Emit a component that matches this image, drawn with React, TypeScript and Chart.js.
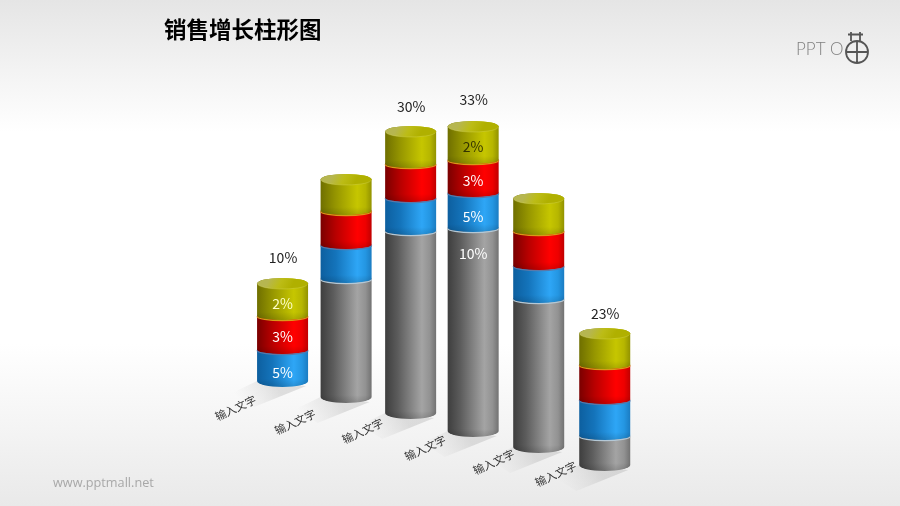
import React, { useEffect, useRef } from "react";
import { Chart, registerables } from "chart.js";

Chart.register(...registerables);

const categories = ["输入文字", "输入文字", "输入文字", "输入文字", "输入文字", "输入文字"];
// In the chart's vertical units
const floorLevels = [119, 103, 87, 69, 53, 35];
const grayValues = [0, 120, 184, 205, 150, 31];
const blueValues = [33, 34, 33, 35, 33, 36];
const redValues = [34, 34, 34, 33, 35, 35];
const oliveValues = [31, 30, 31, 32, 31, 30];
const grayLabels = ["", "", "", "10%", "", ""];
const blueLabels = ["5%", "", "", "5%", "", ""];
const redLabels = ["3%", "", "", "3%", "", ""];
const oliveLabels = ["2%", "", "", "2%", "", ""];
const totalLabels = ["10%", "", "30%", "33%", "", "23%"];

const TITLE = "销售增长柱形图";
const SITE = "www.pptmall.net";
const CJK = '"Noto Sans CJK SC", "Noto Sans", sans-serif';

const RY_CAP = 5.5;
const RY_SEAM = 4;
const RY_FOOT = 6;
const columnNudge = [0.4, -0.4, -0.2, -2, -0.8, 0.9];
const tickOffsets = [[-47, 21], [-51, 19], [-48, 12], [-48, 11], [-45, 9], [-49, 3]];
const totalLift = [31, 0, 30, 32, 0, 25];

type Skin = { stops: [number, string][]; seam: string | null; labels: string[]; text: string[]; };
const skins: Skin[] = [
  {
    stops: [[0, "#3e3e3e"], [0.25, "#5c5c5c"], [0.72, "#a4a4a4"], [0.88, "#929292"], [1, "#727272"]],
    seam: null, labels: grayLabels, text: ["#fff", "#fff", "#fff", "#fff", "#fff", "#fff"],
  },
  {
    stops: [[0, "#0d5f9f"], [0.3, "#1474bb"], [0.72, "#2ea6f6"], [0.88, "#2496e2"], [1, "#1b7cc2"]],
    seam: "#b4c8d6", labels: blueLabels, text: ["#fff", "#fff", "#fff", "#fff", "#fff", "#fff"],
  },
  {
    stops: [[0, "#7a0000"], [0.3, "#b80000"], [0.72, "#ff0000"], [0.88, "#ee0000"], [1, "#c00000"]],
    seam: "#5a78a8", labels: redLabels, text: ["#fff", "#fff", "#fff", "#fff", "#fff", "#fff"],
  },
  {
    stops: [[0, "#6f6f00"], [0.3, "#969600"], [0.72, "#c6c600"], [0.88, "#b6b600"], [1, "#929200"]],
    seam: "#d89a18", labels: oliveLabels, text: ["#ffffc8", "#fff", "#fff", "#333300", "#fff", "#fff"],
  },
];

const cylinderPlugin = {
  id: "cylinders",
  beforeDraw(chart: any) {
    const { ctx, width, height } = chart;
    ctx.save();
    const bg = ctx.createLinearGradient(0, 0, 0, height);
    bg.addColorStop(0, "#e5e5e5");
    bg.addColorStop(0.1, "#efefef");
    bg.addColorStop(0.26, "#ffffff");
    bg.addColorStop(0.68, "#ffffff");
    bg.addColorStop(0.86, "#f3f3f3");
    bg.addColorStop(1, "#e9e9e9");
    ctx.fillStyle = bg;
    ctx.fillRect(0, 0, width, height);

    ctx.fillStyle = "#000";
    ctx.font = `bold 22.5px ${CJK}`;
    ctx.textAlign = "left";
    ctx.textBaseline = "middle";
    ctx.fillText(TITLE, 164, 29);

    ctx.fillStyle = "#a8a8a8";
    ctx.font = '12.7px "Open Sans", sans-serif';
    ctx.fillText(SITE, 53, 483);

    // logo
    ctx.fillStyle = "#808080";
    ctx.font = '300 17px "Lato", sans-serif';
    ctx.fillText("PPT O", 796, 50);
    ctx.strokeStyle = "#555";
    ctx.lineWidth = 1.8;
    ctx.beginPath();
    ctx.arc(857, 52, 11, 0, Math.PI * 2);
    ctx.moveTo(846, 52); ctx.lineTo(868, 52);
    ctx.moveTo(857, 41); ctx.lineTo(857, 63);
    ctx.moveTo(848, 34.5); ctx.lineTo(863, 34.5);
    ctx.moveTo(851, 32); ctx.lineTo(851, 41);
    ctx.moveTo(860, 32); ctx.lineTo(860, 41);
    ctx.stroke();
    ctx.restore();
  },
  afterDatasetsDraw(chart: any) {
    const { ctx } = chart;
    const metas = skins.map((_, k) => chart.getDatasetMeta(k + 1));
    ctx.save();
    categories.forEach((cat, i) => {
      const first = metas[0].data[i];
      const x = first.x + columnNudge[i];
      const half = first.width / 2;
      const bottomFront = first.base;

      // floor shadow
      const sh = ctx.createLinearGradient(x - 10, bottomFront - 6, x - 42, bottomFront + 16);
      sh.addColorStop(0, "rgba(165,165,165,0.32)");
      sh.addColorStop(1, "rgba(190,190,190,0)");
      ctx.fillStyle = sh;
      ctx.beginPath();
      ctx.moveTo(x - half, bottomFront - 6);
      ctx.lineTo(x - half - 25, bottomFront + 6);
      ctx.lineTo(x - half - 3, bottomFront + 20);
      ctx.lineTo(x + half - 2, bottomFront - 1);
      ctx.closePath();
      ctx.fill();

      // stacked cylinder parts, bottom to top; bar ends follow the front edge
      let lowest = true;
      skins.forEach((skin, k) => {
        const el = metas[k].data[i];
        if (Math.abs(el.base - el.y) < 0.5) return;
        const footRy = lowest ? RY_FOOT : RY_SEAM;
        const topRy = k === 3 ? RY_CAP : RY_SEAM;
        const footY = el.base - footRy;
        const headY = el.y - topRy;
        const g = ctx.createLinearGradient(x - half, 0, x + half, 0);
        skin.stops.forEach(([p, c]) => g.addColorStop(p, c));
        ctx.fillStyle = g;
        ctx.beginPath();
        ctx.moveTo(x - half, headY);
        ctx.lineTo(x - half, footY);
        ctx.ellipse(x, footY, half, footRy, 0, Math.PI, 0, true);
        ctx.lineTo(x + half, headY);
        ctx.ellipse(x, headY, half, topRy, 0, 0, Math.PI, true);
        ctx.closePath();
        ctx.fill();

        // soft darkening towards the lower edge
        const shade = ctx.createLinearGradient(0, el.base - 8, 0, el.base);
        shade.addColorStop(0, "rgba(0,0,0,0)");
        shade.addColorStop(1, "rgba(0,0,0,0.14)");
        ctx.fillStyle = shade;
        ctx.fill();

        // lit edge at the joint with the part below
        if (skin.seam && !lowest) {
          ctx.strokeStyle = skin.seam;
          ctx.lineWidth = 1.2;
          ctx.beginPath();
          ctx.ellipse(x, footY + 0.6, half, footRy, 0, Math.PI, 0, true);
          ctx.stroke();
        }
        lowest = false;
      });

      // cap
      const top = metas[3].data[i];
      const capY = top.y - RY_CAP;
      const cap = ctx.createLinearGradient(x - half * 0.5, capY - RY_CAP, x + half * 0.3, capY + RY_CAP);
      cap.addColorStop(0, "#b6b650");
      cap.addColorStop(0.5, "#bcbc16");
      cap.addColorStop(1, "#b0b000");
      ctx.fillStyle = cap;
      ctx.beginPath();
      ctx.ellipse(x, capY, half, RY_CAP, 0, 0, Math.PI * 2);
      ctx.fill();
      ctx.strokeStyle = "rgba(225,225,110,0.3)";
      ctx.lineWidth = 1;
      ctx.beginPath();
      ctx.ellipse(x, capY + 0.5, half - 0.5, RY_CAP - 0.5, 0, 0.15, Math.PI - 0.15);
      ctx.stroke();

      // part labels
      ctx.textAlign = "center";
      ctx.textBaseline = "middle";
      ctx.font = `14px ${CJK}`;
      skins.forEach((skin, k) => {
        const text = skin.labels[i];
        if (!text) return;
        const el = metas[k].data[i];
        let y = (el.y + el.base) / 2;
        if (k === 0) y = el.y + 22;
        if (k === 1) y += 2;
        if (k === 3) y -= 1;
        ctx.fillStyle = skin.text[i];
        ctx.fillText(text, x, y);
      });

      // total
      if (totalLabels[i]) {
        ctx.fillStyle = "#222";
        ctx.fillText(totalLabels[i], x + 0.5, top.y - totalLift[i]);
      }

      // category label along the floor
      ctx.save();
      ctx.translate(x + tickOffsets[i][0], bottomFront + tickOffsets[i][1]);
      ctx.rotate((-25 * Math.PI) / 180);
      ctx.fillStyle = "#333";
      ctx.font = `11px ${CJK}`;
      ctx.fillText(cat, 0, 0);
      ctx.restore();
    });
    ctx.restore();
  },
};

export default function App() {
  const ref = useRef<HTMLCanvasElement | null>(null);
  useEffect(() => {
    if (!ref.current) return;
    const invisible = "rgba(0,0,0,0)";
    const chart = new Chart(ref.current, {
      type: "bar",
      data: {
        labels: categories,
        datasets: [
          { label: "floor", data: floorLevels, backgroundColor: invisible },
          { label: "gray", data: grayValues, backgroundColor: invisible },
          { label: "blue", data: blueValues, backgroundColor: invisible },
          { label: "red", data: redValues, backgroundColor: invisible },
          { label: "olive", data: oliveValues, backgroundColor: invisible },
        ],
      },
      options: {
        responsive: false,
        animation: false,
        layout: { padding: { left: 250, right: 264, top: 0, bottom: 0 } },
        datasets: { bar: { barThickness: 51 } },
        plugins: { legend: { display: false }, tooltip: { enabled: false }, title: { display: false } },
        scales: {
          x: { stacked: true, display: false },
          y: { stacked: true, display: false, min: 0, max: 506 },
        },
      },
      plugins: [cylinderPlugin],
    } as any);
    return () => chart.destroy();
  }, []);
  return (
    <div style={{ position: "absolute", left: 0, top: 0, width: 900, height: 506 }}>
      <canvas ref={ref} width={900} height={506} style={{ display: "block" }} />
    </div>
  );
}
